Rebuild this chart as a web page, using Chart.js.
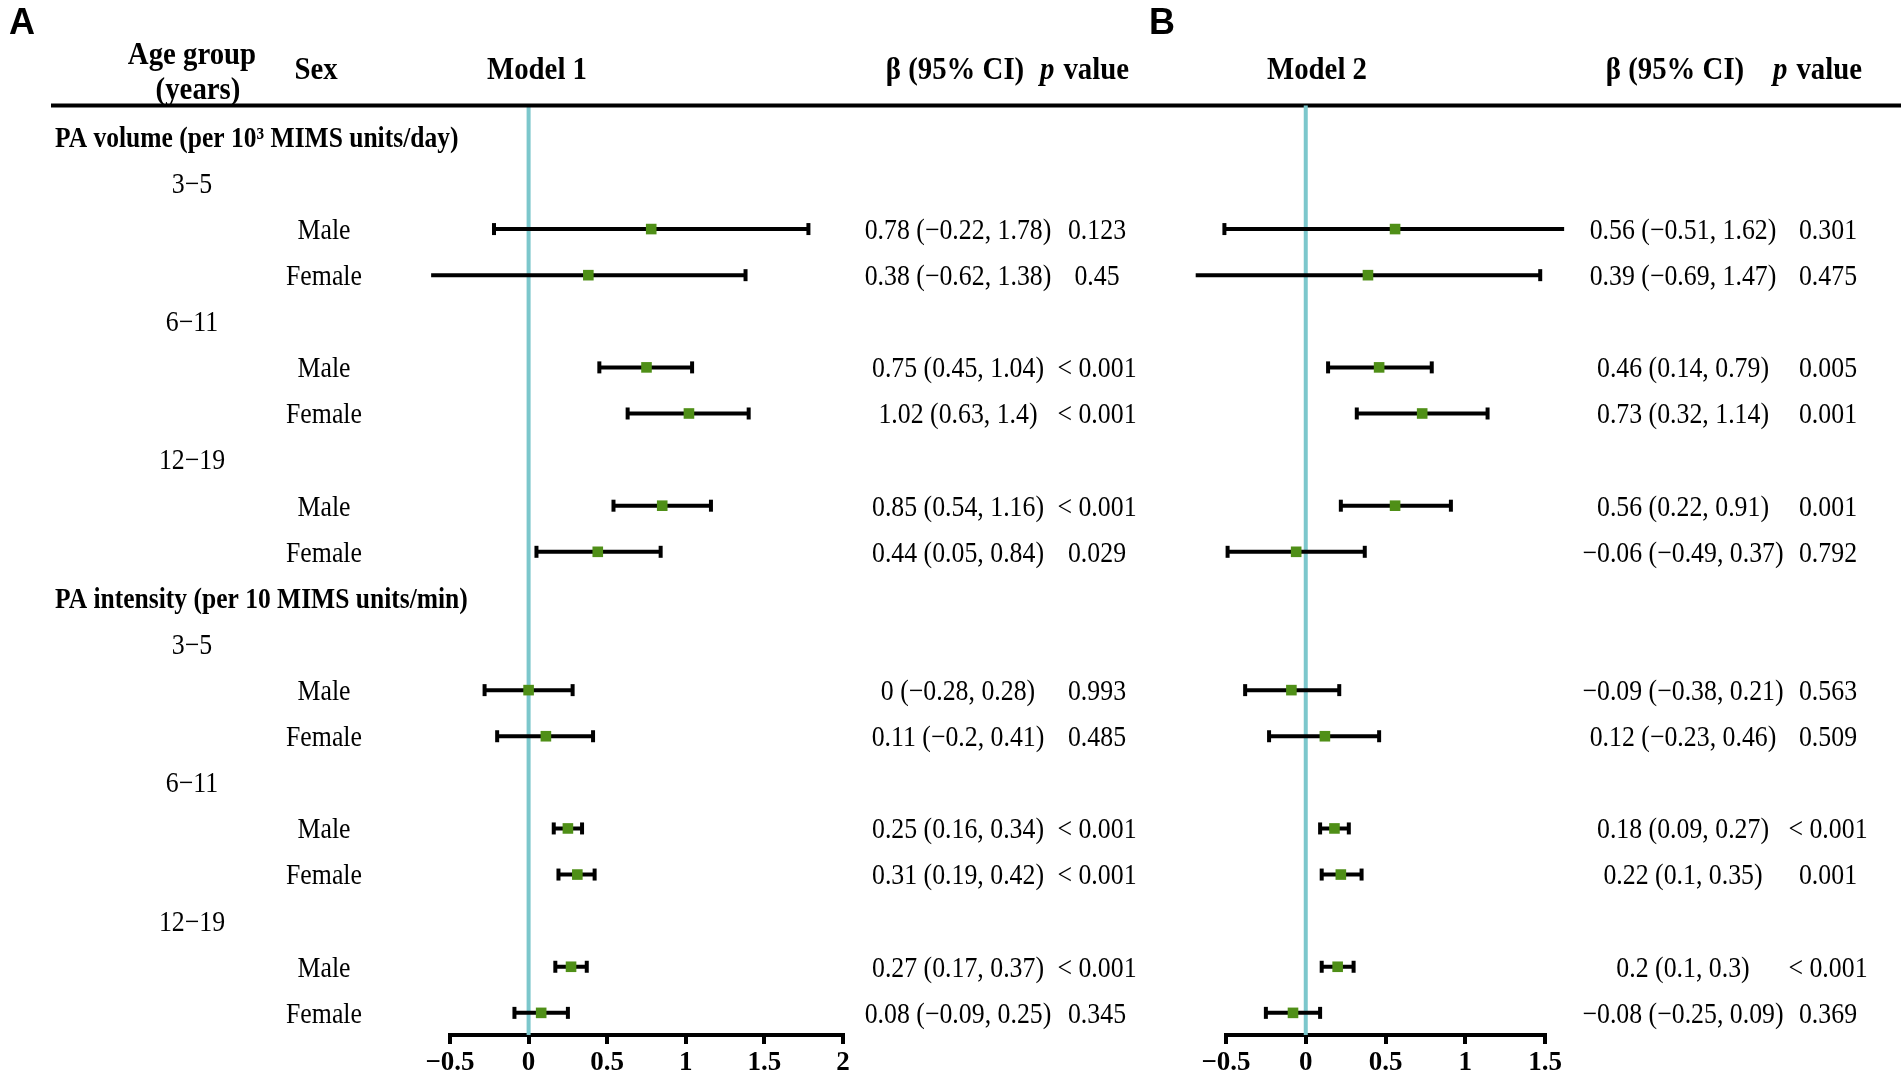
<!DOCTYPE html>
<html>
<head>
<meta charset="utf-8">
<title>Forest plot - Model 1 / Model 2</title>
<script src="https://cdn.jsdelivr.net/npm/chart.js@4.4.1/dist/chart.umd.min.js"></script>
<style>
  html, body { margin: 0; padding: 0; background: #fff; }
  #wrap { position: relative; width: 1901px; height: 1075px; overflow: hidden; }
  #wrap canvas { position: absolute; left: 0; top: 0; }
</style>
</head>
<body>
<div id="wrap">
  <canvas id="chartA" width="1901" height="1075"></canvas>
  <canvas id="chartB" width="1901" height="1075"></canvas>
</div>
<script>
// Table labels
const sections = ['PA volume (per 10\u00b3 MIMS units/day)', 'PA intensity (per 10 MIMS units/min)'];
const ageGroups = ['3\u22125', '6\u221211', '12\u221219'];
const sexes = ['Male', 'Female'];

// Model 1 (panel A): beta, 95% CI, p value
const model1Beta  = [0.78, 0.38, 0.75, 1.02, 0.85, 0.44, 0, 0.11, 0.25, 0.31, 0.27, 0.08];
const model1Lower = [-0.22, -0.62, 0.45, 0.63, 0.54, 0.05, -0.28, -0.2, 0.16, 0.19, 0.17, -0.09];
const model1Upper = [1.78, 1.38, 1.04, 1.4, 1.16, 0.84, 0.28, 0.41, 0.34, 0.42, 0.37, 0.25];
const model1P = ['0.123', '0.45', '< 0.001', '< 0.001', '< 0.001', '0.029', '0.993', '0.485', '< 0.001', '< 0.001', '< 0.001', '0.345'];

// Model 2 (panel B)
const model2Beta  = [0.56, 0.39, 0.46, 0.73, 0.56, -0.06, -0.09, 0.12, 0.18, 0.22, 0.2, -0.08];
const model2Lower = [-0.51, -0.69, 0.14, 0.32, 0.22, -0.49, -0.38, -0.23, 0.09, 0.1, 0.1, -0.25];
const model2Upper = [1.62, 1.47, 0.79, 1.14, 0.91, 0.37, 0.21, 0.46, 0.27, 0.35, 0.3, 0.09];
const model2P = ['0.301', '0.475', '0.005', '0.001', '0.001', '0.792', '0.563', '0.509', '< 0.001', '0.001', '< 0.001', '0.369'];

// x axis ticks
const ticksA = [-0.5, 0, 0.5, 1, 1.5, 2];
const ticksB = [-0.5, 0, 0.5, 1, 1.5];

// Layout
const FIG_W = 1901, FIG_H = 1075;
const RULE_Y = 105.5, AXIS_Y = 1035;
const Y_MIN = -0.68, Y_MAX = 19.48;
const SERIF = '"Liberation Serif", "Times New Roman", serif';
const SANS = '"Liberation Sans", Arial, sans-serif';
const CYAN = '#7cc7cc';
const GREEN = '#4f8f17';
const BODY = 29, BODY_SX = 0.89;   // figure text is a bit narrow
const HEAD = 32, HEAD_SX = 0.9;

// minus sign like the figure
const fmt = v => String(Math.round(v * 100) / 100).replace('-', '\u2212');

// row of the k-th estimate in the table (section header, age rows, sex rows)
function rowOf(k) {
    const s = Math.floor(k / 6);
    const a = Math.floor((k % 6) / 2);
    return s * 10 + a * 3 + (k % 2) + 2;
}

function text(ctx, str, x, cy, size, weight, align, sx, family) {
    ctx.save();
    ctx.font = (weight || 'normal') + ' ' + size + 'px ' + (family || SERIF);
    ctx.textAlign = align || 'center';
    ctx.textBaseline = 'alphabetic';
    ctx.translate(x, cy + size * 0.34);
    ctx.scale(sx || 1, 1);
    ctx.fillText(str, 0, 0);
    ctx.restore();
}

// bold "p value" with italic p
function pValueHeader(ctx, x, cy) {
    ctx.save();
    ctx.translate(x, cy + HEAD * 0.34);
    ctx.scale(HEAD_SX, 1);
    ctx.textAlign = 'left';
    ctx.textBaseline = 'alphabetic';
    ctx.font = 'italic bold ' + HEAD + 'px ' + SERIF;
    ctx.fillText('p', 0, 0);
    const w = ctx.measureText('p ').width;
    ctx.font = 'bold ' + HEAD + 'px ' + SERIF;
    ctx.fillText('value', w + 2, 0);
    ctx.restore();
}

function buildDatasets(beta, lower, upper) {
    const segs = [];
    const caps = [];
    beta.forEach((b, k) => {
        const r = rowOf(k);
        segs.push({ x: lower[k], y: r }, { x: upper[k], y: r }, { x: null, y: null });
        caps.push({ x: lower[k], y: r }, { x: upper[k], y: r });
    });
    return [
        {
            type: 'line',
            data: [{ x: 0, y: Y_MIN }, { x: 0, y: Y_MAX }],
            borderColor: CYAN,
            borderWidth: 4,
            pointRadius: 0,
            clip: false,
            order: 3
        },
        {
            type: 'line',
            data: segs,
            borderColor: '#000',
            borderWidth: 4,
            borderCapStyle: 'butt',
            pointRadius: 0,
            spanGaps: false,
            clip: false,
            order: 2
        },
        {
            type: 'scatter',
            data: caps,
            pointStyle: 'line',
            pointRotation: 90,
            pointRadius: 6,
            pointBorderColor: '#000',
            pointBorderWidth: 4,
            clip: false,
            order: 1
        },
        {
            type: 'scatter',
            data: beta.map((b, k) => ({ x: b, y: rowOf(k) })),
            pointStyle: 'rect',
            pointRadius: 7.5,
            pointBackgroundColor: GREEN,
            pointBorderWidth: 0,
            clip: false,
            order: 0
        }
    ];
}

function makeConfig(beta, lower, upper, ticks, left, right, drawTable) {
    return {
        type: 'scatter',
        data: { datasets: buildDatasets(beta, lower, upper) },
        options: {
            responsive: false,
            devicePixelRatio: 1,
            animation: false,
            events: [],
            layout: { padding: { left: left, right: FIG_W - right, top: RULE_Y, bottom: 0 } },
            plugins: { legend: { display: false }, tooltip: { enabled: false } },
            scales: {
                x: {
                    type: 'linear',
                    min: ticks[0],
                    max: ticks[ticks.length - 1],
                    afterBuildTicks: axis => { axis.ticks = ticks.map(v => ({ value: v })); },
                    afterFit: axis => { axis.height = FIG_H - AXIS_Y; },
                    grid: { display: true, drawOnChartArea: false, drawTicks: true, tickLength: 9, color: '#000', lineWidth: 4 },
                    border: { display: true, color: '#000', width: 4 },
                    ticks: {
                        color: '#000',
                        font: { family: SERIF, size: 27, weight: 'bold' },
                        padding: 3,
                        maxRotation: 0,
                        autoSkip: false,
                        callback: v => fmt(v)
                    }
                },
                y: { type: 'linear', display: false, reverse: true, min: Y_MIN, max: Y_MAX }
            }
        },
        plugins: [{ id: 'table', afterDraw: drawTable }]
    };
}

// Panel A: labels, headers, rule, Model 1 values
function drawTableA(chart) {
    const ctx = chart.ctx;
    const y = chart.scales.y;
    ctx.save();
    ctx.fillStyle = '#000';
    text(ctx, 'A', 22, 22, 36, 'bold', 'center', 1, SANS);
    text(ctx, 'Age group', 192, 53, HEAD, 'bold', 'center', HEAD_SX);
    text(ctx, '(years)', 198, 88, HEAD, 'bold', 'center', HEAD_SX);
    text(ctx, 'Sex', 316, 68, HEAD, 'bold', 'center', HEAD_SX);
    text(ctx, 'Model 1', 537, 68, HEAD, 'bold', 'center', HEAD_SX);
    text(ctx, '\u03b2 (95% CI)', 955, 68, HEAD, 'bold', 'center', HEAD_SX);
    pValueHeader(ctx, 1040, 68);
    ctx.fillRect(51, RULE_Y - 2, FIG_W - 51, 4);

    sections.forEach((s, si) => {
        text(ctx, s, 55, y.getPixelForValue(si * 10), BODY, 'bold', 'left', 0.88);
        ageGroups.forEach((a, ai) => {
            text(ctx, a, 192, y.getPixelForValue(si * 10 + ai * 3 + 1), BODY, 'normal', 'center', BODY_SX);
            sexes.forEach((sx, xi) => {
                text(ctx, sx, 324, y.getPixelForValue(si * 10 + ai * 3 + 2 + xi), BODY, 'normal', 'center', BODY_SX);
            });
        });
    });

    model1Beta.forEach((b, k) => {
        const py = y.getPixelForValue(rowOf(k));
        text(ctx, fmt(b) + ' (' + fmt(model1Lower[k]) + ', ' + fmt(model1Upper[k]) + ')', 958, py, BODY, 'normal', 'center', BODY_SX);
        text(ctx, model1P[k], 1097, py, BODY, 'normal', 'center', BODY_SX);
    });
    ctx.restore();
}

// Panel B: Model 2 headers and values
function drawTableB(chart) {
    const ctx = chart.ctx;
    const y = chart.scales.y;
    ctx.save();
    ctx.fillStyle = '#000';
    text(ctx, 'B', 1162, 22, 36, 'bold', 'center', 1, SANS);
    text(ctx, 'Model 2', 1317, 68, HEAD, 'bold', 'center', HEAD_SX);
    text(ctx, '\u03b2 (95% CI)', 1675, 68, HEAD, 'bold', 'center', HEAD_SX);
    pValueHeader(ctx, 1773, 68);

    model2Beta.forEach((b, k) => {
        const py = y.getPixelForValue(rowOf(k));
        text(ctx, fmt(b) + ' (' + fmt(model2Lower[k]) + ', ' + fmt(model2Upper[k]) + ')', 1683, py, BODY, 'normal', 'center', BODY_SX);
        text(ctx, model2P[k], 1828, py, BODY, 'normal', 'center', BODY_SX);
    });
    ctx.restore();
}

new Chart(document.getElementById('chartA'),
    makeConfig(model1Beta, model1Lower, model1Upper, ticksA, 450, 843, drawTableA));
new Chart(document.getElementById('chartB'),
    makeConfig(model2Beta, model2Lower, model2Upper, ticksB, 1226, 1545, drawTableB));
</script>
</body>
</html>
